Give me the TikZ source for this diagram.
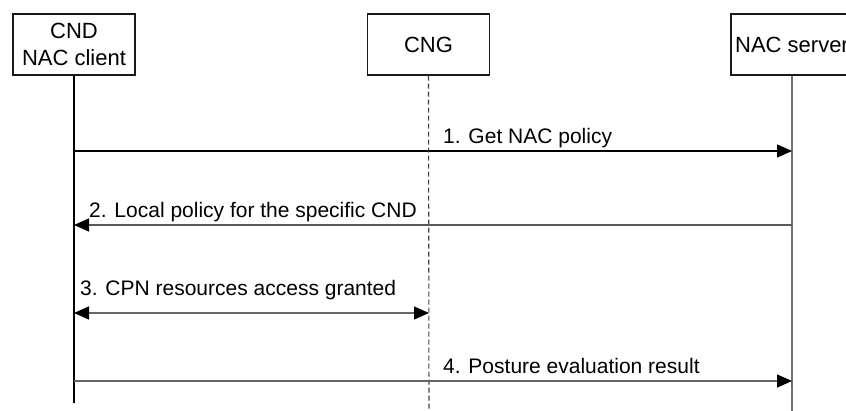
\documentclass[tikz,border=0pt]{standalone}
\usepackage{fontspec}
\setmainfont{Liberation Sans}
\usetikzlibrary{arrows.meta}
\begin{document}
\begin{tikzpicture}[x=1pt,y=-1pt,
  entity/.style={draw=black!90, line width=1.3pt, fill=white, minimum width=122pt, minimum height=61pt, inner sep=0pt, align=center, font=\fontsize{22}{27}\selectfont},
  life/.style={line width=1.1pt},
  tip/.style={Triangle[length=15pt,width=13pt,color=black]},
  msg/.style={line width=1.3pt, -{Triangle[length=15pt,width=13pt,color=black]}},
  msgboth/.style={line width=1.3pt, {Triangle[length=15pt,width=13pt,color=black]}-{Triangle[length=15pt,width=13pt,color=black]}},
  lbl/.style={anchor=base west, inner sep=0pt, font=\fontsize{21}{25}\selectfont}]
\useasboundingbox (0,0) rectangle (846,410);
\fill[white] (0,0) rectangle (846,410);
% entities
\node[entity] (cnd) at (74,44.5) {CND\\NAC client};
\node[entity] (cng) at (428.5,44.5) {CNG};
\node[entity] (nac) at (792,44.5) {NAC server};
% lifeline ends
\coordinate (cndend) at (74,403);
\coordinate (cngend) at (429,412);
\coordinate (nacend) at (792,412);
\draw[life, black] (cnd.south) -- (cndend);
\draw[life, black!75, dash pattern=on 5pt off 3pt] (cng.south) -- (cngend);
\draw[life, black!55] (nac.south) -- (nacend);
% message points
\coordinate (m1a) at (74,151);  \coordinate (m1b) at (792,151);
\coordinate (m2a) at (792,225); \coordinate (m2b) at (74,225);
\coordinate (m3a) at (74,313);  \coordinate (m3b) at (429,313);
\coordinate (m4a) at (74,381);  \coordinate (m4b) at (792,381);
\draw[msg, black] (m1a) -- (m1b);
\draw[msg, black!65] (m2a) -- (m2b);
\draw[msgboth, black!60] (m3a) -- (m3b);
\draw[msg, black!60] (m4a) -- (m4b);
% labels
\node[lbl] (l1) at (443,143) {1. Get NAC policy};
\node[lbl] (l2) at (89,217) {2. Local policy for the specific CND};
\node[lbl] (l3) at (80,295) {3. CPN resources access granted};
\node[lbl] (l4) at (443,373) {4. Posture evaluation result};
\end{tikzpicture}
\end{document}
